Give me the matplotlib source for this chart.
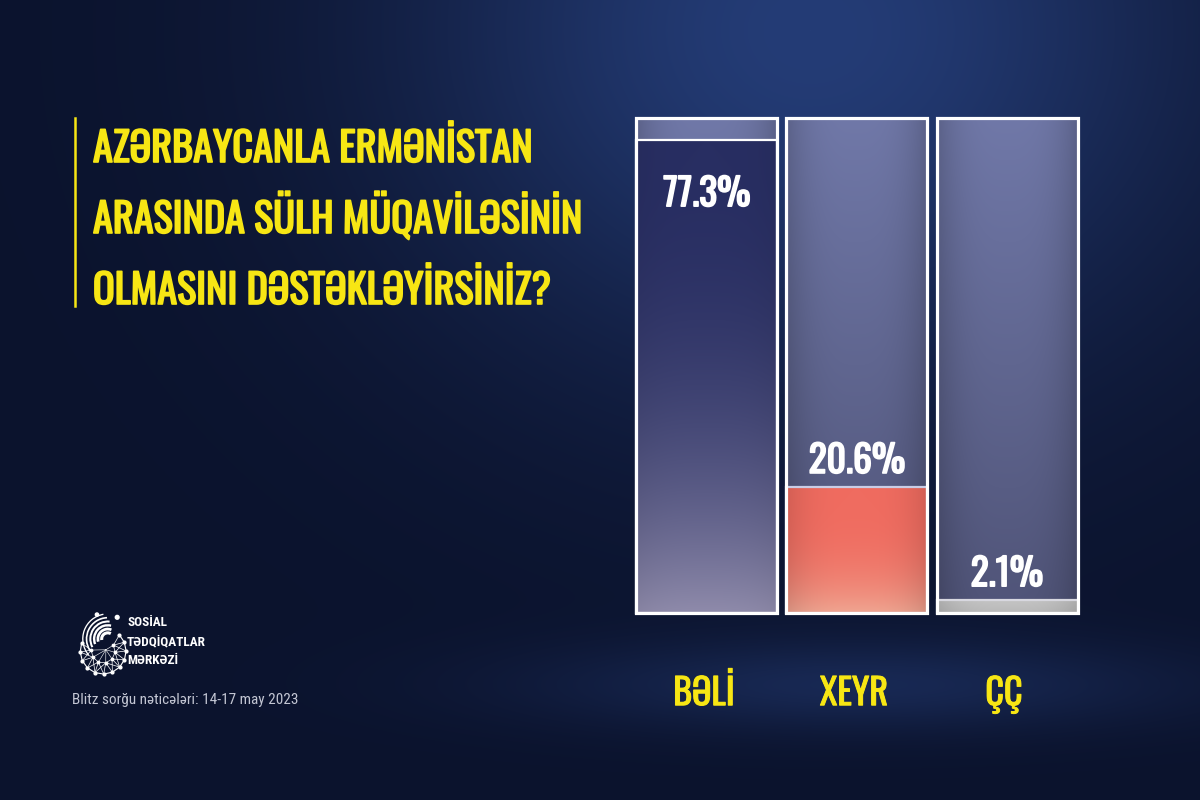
import numpy as np
import matplotlib
matplotlib.use('Agg')
import matplotlib.pyplot as plt
import matplotlib.patheffects as pe
from matplotlib.lines import Line2D
from matplotlib.patches import Arc, Circle

# survey results
categories = ['BƏLİ', 'XEYR', 'ÇÇ']
values = [77.3, 20.6, 2.1]
value_labels = ['77.3%', '20.6%', '2.1%']

title_lines = ['AZƏRBAYCANLA ERMƏNİSTAN',
               'ARASINDA SÜLH MÜQAVİLƏSİNİN',
               'OLMASINI DƏSTƏKLƏYİRSİNİZ?']
org_lines = ['SOSİAL', 'TƏDQİQATLAR', 'MƏRKƏZİ']
footer = 'Blitz sorğu nəticələri: 14-17 may 2023'

HEAD = ['Oswald', 'Antonio', 'Roboto Condensed', 'Liberation Sans Narrow', 'DejaVu Sans']
BODY = ['Roboto Condensed', 'Liberation Sans Narrow', 'DejaVu Sans']
YELLOW = '#f7e614'

# the boxes in the graphic are not drawn on a 0-100 scale, the frame top sits near 81
frame_top = 81.0


def bold(color, w=1.1):
    return [pe.withStroke(linewidth=w, foreground=color)]


fig = plt.figure(figsize=(12, 8), dpi=100)

# background with a soft blue glow
H, W = 800, 1200
yy, xx = np.mgrid[0:H, 0:W]
base = np.array([11, 19, 45]) / 255
glow = np.array([36, 60, 118]) / 255
g = np.exp(-(((xx - 810) / 400) ** 2 + ((yy - 30) / 340) ** 2))
g += 0.5 * np.exp(-(((xx - 860) / 320) ** 2 + ((yy - 685) / 45) ** 2))
g = np.clip(g, 0, 1)
bg = base + (glow - base) * g[..., None]
bax = fig.add_axes([0, 0, 1, 1])
bax.imshow(bg, aspect='auto', extent=(0, 1, 0, 1), origin='upper')
bax.axis('off')


def grad(top, bottom, power=1.0, edge=0.0, n=120):
    t = np.linspace(0, 1, n)[:, None] ** power
    top = np.array(top) / 255
    bottom = np.array(bottom) / 255
    col = top[None, None, :] * (1 - t[..., None]) + bottom[None, None, :] * t[..., None]
    col = np.repeat(col, 60, axis=1)
    s = 1 - edge * np.abs(np.linspace(-1, 1, 60)) ** 3
    return np.clip(col * s[None, :, None], 0, 1)


frame_img = grad((112, 120, 168), (80, 84, 120), power=1.0, edge=0.18)
fill_imgs = [grad((40, 46, 98), (142, 138, 170), power=2.4, edge=0.05),
             grad((240, 108, 96), (240, 165, 145), power=3.0, edge=0.12),
             grad((196, 196, 196), (185, 185, 185), edge=0.12)]
fill_edges = ['white', '#c9cde6', '#d8d8e0']

ax = fig.add_axes([632 / 1200, 1 - 613 / 800, 450 / 1200, 495.5 / 800])
ax.patch.set_alpha(0)
x = np.arange(len(categories))

frames = ax.bar(x, [frame_top] * len(x), width=0.94, facecolor='none',
                edgecolor='white', linewidth=2.3, zorder=4, clip_on=False)
fills = ax.bar(x, values, width=0.94, facecolor='none', edgecolor=fill_edges,
               linewidth=1.6, zorder=3, clip_on=False)

for fr, fl, img in zip(frames, fills, fill_imgs):
    x0, w = fr.get_x(), fr.get_width()
    im = ax.imshow(frame_img, extent=(x0, x0 + w, 0, frame_top), aspect='auto',
                   origin='upper', zorder=1, interpolation='bilinear')
    im.set_clip_path(fr)
    im2 = ax.imshow(img, extent=(x0, x0 + w, 0, fl.get_height()), aspect='auto',
                    origin='upper', zorder=2, interpolation='bilinear')
    im2.set_clip_path(fl)

for xi, v, lbl in zip(x, values, value_labels):
    dy = -66 if v > 50 else 14
    ax.annotate(lbl, xy=(xi, v), xytext=(0, dy), textcoords='offset pixels',
                ha='center', va='baseline', color='white', fontsize=27,
                family=HEAD, zorder=6, path_effects=bold('white', 1.2))

for xi, cat in zip(x, categories):
    ax.text(xi - 0.02, -0.186, cat, transform=ax.get_xaxis_transform(),
            ha='center', va='baseline', color=YELLOW, fontsize=26, family=HEAD,
            path_effects=bold(YELLOW, 0.7))

ax.set_xlim(-0.5, 2.5)
ax.set_ylim(0, frame_top)
ax.axis('off')

# question
for i, line in enumerate(title_lines):
    fig.text(93 / 1200, 1 - (162 + 71 * i) / 800, line, color=YELLOW, fontsize=29,
             family=HEAD, ha='left', va='baseline', path_effects=bold(YELLOW, 1.2))
fig.add_artist(Line2D([75 / 1200] * 2, [1 - 118 / 800, 1 - 306 / 800],
                      color=YELLOW, linewidth=1.8))

# logo
lax = fig.add_axes([74 / 1200, 1 - 676 / 800, 54 / 1200, 66 / 800])
lax.set_xlim(-1, 1)
lax.set_ylim(-1.22, 1.22)
lax.axis('off')
cx, cy, r = 0.08, -0.3, 0.85
ang = np.deg2rad(np.linspace(-200, 45, 12))
outer = np.c_[cx + r * np.cos(ang), cy + r * np.sin(ang)]
ang_in = np.deg2rad(np.linspace(-185, 30, 7))
inner = np.c_[cx + 0.52 * r * np.cos(ang_in), cy + 0.52 * r * np.sin(ang_in)]
lax.plot(outer[:, 0], outer[:, 1], color='white', lw=0.8)
lax.plot(inner[:, 0], inner[:, 1], color='white', lw=0.5)
for p in outer:
    for q in inner:
        if np.hypot(*(p - q)) < 0.6:
            lax.plot([p[0], q[0]], [p[1], q[1]], color='white', lw=0.5)
for q in inner:
    lax.plot([q[0], cx + 0.1], [q[1], cy + 0.05], color='white', lw=0.4)
lax.scatter(outer[:, 0], outer[:, 1], s=4, color='white', zorder=3)
lax.scatter(inner[:, 0], inner[:, 1], s=3, color='white', zorder=3)
for k in range(6):
    rad = 0.45 + 0.28 * k
    lax.add_patch(Arc((0.25, 0.15), rad, rad, theta1=60 + 8 * k, theta2=190 + 6 * k,
                      color='white', lw=2.2 - 0.25 * k))
lax.add_patch(Circle((0.6, 0.95), 0.07, color='white'))
lax.add_patch(Circle((-0.15, 1.05), 0.06, color='white'))

for i, t in enumerate(org_lines):
    fig.text(127 / 1200, 1 - (626 + 19 * i) / 800, t, color='white', fontsize=9.5,
             weight='bold', family=BODY, ha='left', va='baseline')

fig.text(72 / 1200, 1 - 704 / 800, footer, color='#c3c6d3', fontsize=11,
         family=BODY, ha='left', va='baseline')

fig.savefig('out.png', dpi=100)
